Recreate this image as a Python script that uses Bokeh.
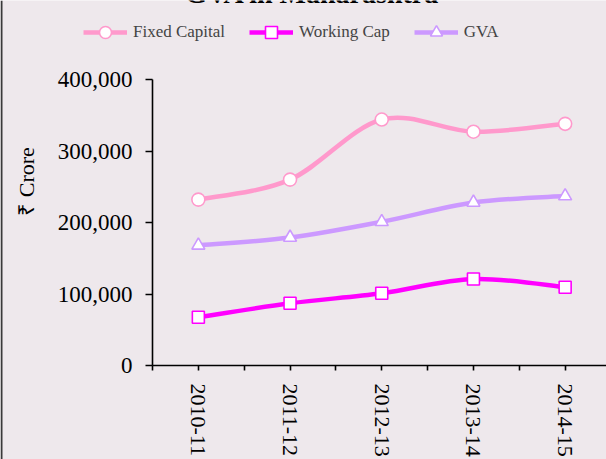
import math
from bokeh.plotting import figure
from bokeh.models import (Range1d, FixedTicker, NumeralTickFormatter, Legend, LegendItem,
                          Label, Span, ColumnDataSource)
from bokeh.embed import file_html
from bokeh.resources import INLINE

# ---- data ----
years = ["2010-11", "2011-12", "2012-13", "2013-14", "2014-15"]
fixed_capital = [232000, 260000, 344000, 327000, 338000]
working_cap = [67500, 87000, 101000, 121000, 109500]
gva = [168000, 179000, 201000, 228000, 237000]
y_ticks = [0, 100000, 200000, 300000, 400000]
title_text = "GVA in Maharashtra"
y_title = "₹ Crore"

FONT = "Liberation Serif"
BG = "#EEE8EC"
C_FC = "#FF99CC"
C_WC = "#FF00FF"
C_GVA = "#CC99FF"

W, H = 606, 459
X0PX, XUNIT = 152.0, 91.7          # pixel of x=0, pixels per category
Y0PX, YSCALE = 365.0, 0.000715     # pixel of y=0, pixels per unit

xs = [i + 0.5 for i in range(len(years))]
x_start = -X0PX / XUNIT
x_end = (W - X0PX) / XUNIT
y_start = -(H - Y0PX) / YSCALE
y_end = Y0PX / YSCALE

p = figure(width=W, height=H, output_backend="svg", toolbar_location=None,
           x_range=Range1d(x_start, x_end), y_range=Range1d(y_start, y_end),
           min_border_left=0, min_border_right=0, min_border_top=0, min_border_bottom=0,
           background_fill_color=BG, border_fill_color=BG, outline_line_color=None)
p.grid.visible = False

# y axis
ya = p.yaxis[0]
ya.fixed_location = 0
ya.bounds = (y_ticks[0], y_ticks[-1])
ya.ticker = FixedTicker(ticks=y_ticks)
ya.formatter = NumeralTickFormatter(format="0,0")
ya.major_label_text_font = FONT
ya.major_label_text_font_size = "23px"
ya.major_label_text_color = "black"
ya.major_tick_out = 7
ya.major_tick_in = 0
ya.minor_tick_line_color = None
ya.axis_line_width = 1.6
ya.major_tick_line_width = 1.6
ya.major_label_standoff = 13

# x axis
xa = p.xaxis[0]
xa.fixed_location = 0
xa.bounds = (0, x_end)
xt = [i * 0.5 for i in range(0, 10)]
xa.ticker = FixedTicker(ticks=xt)
overrides = {t: "" for t in xt}
for x, lab in zip(xs, years):
    overrides[x] = lab
xa.major_label_overrides = overrides
xa.major_label_orientation = "vertical"
xa.major_label_text_font = FONT
xa.major_label_text_font_size = "22px"
xa.major_label_text_color = "black"
xa.major_label_standoff = 13
xa.major_tick_out = 5
xa.major_tick_in = 0
xa.minor_tick_line_color = None
xa.axis_line_width = 1.6
xa.major_tick_line_width = 1.6


def bezier_segments(ys):
    n = len(ys)
    pts = list(zip(xs, ys))
    out = dict(x0=[], y0=[], x1=[], y1=[], cx0=[], cy0=[], cx1=[], cy1=[])
    for i in range(n - 1):
        p0 = pts[i - 1] if i > 0 else pts[i]
        p1 = pts[i]
        p2 = pts[i + 1]
        p3 = pts[i + 2] if i + 2 < n else pts[i + 1]
        out["x0"].append(p1[0]); out["y0"].append(p1[1])
        out["x1"].append(p2[0]); out["y1"].append(p2[1])
        out["cx0"].append(p1[0] + (p2[0] - p0[0]) / 6.0)
        out["cy0"].append(p1[1] + (p2[1] - p0[1]) / 6.0)
        out["cx1"].append(p2[0] - (p3[0] - p1[0]) / 6.0)
        out["cy1"].append(p2[1] - (p3[1] - p1[1]) / 6.0)
    return ColumnDataSource(out)


leg_items = []
for name, ys, color, marker, size in [
        ("Fixed Capital", fixed_capital, C_FC, "circle", 13),
        ("Working Cap", working_cap, C_WC, "square", 12),
        ("GVA", gva, C_GVA, "triangle", 13)]:
    src = bezier_segments(ys)
    br = p.bezier(x0="x0", y0="y0", x1="x1", y1="y1", cx0="cx0", cy0="cy0",
                  cx1="cx1", cy1="cy1", source=src, line_color=color, line_width=4.5)
    sr = p.scatter(x=xs, y=ys, marker=marker, size=size, fill_color="white",
                   line_color=color, line_width=1.6)
    leg_items.append(LegendItem(label=name, renderers=[br, sr]))

legend = Legend(items=leg_items, orientation="horizontal", location=(83, 412),
                padding=0, margin=0, spacing=24, label_standoff=6,
                glyph_width=44, glyph_height=30, label_height=30,
                label_text_font=FONT, label_text_font_size="17px",
                label_text_baseline="middle",
                background_fill_alpha=0, border_line_color=None)
p.add_layout(legend, "center")

# y axis title
p.add_layout(Label(x=(25.5 - X0PX) / XUNIT, y=(Y0PX - 181) / YSCALE, text=y_title,
                   angle=math.pi / 2, text_align="center", text_baseline="middle",
                   text_font=FONT, text_font_size="22px", text_color="black"))

# title (cut off at top edge, as in the reference)
p.add_layout(Label(x=(312 - X0PX) / XUNIT, y=(Y0PX + 7.5) / YSCALE, text=title_text,
                   text_align="center", text_baseline="alphabetic", text_font=FONT,
                   text_font_size="28px", text_font_style="bold", text_color="black"))

# left border of the chart area
p.add_layout(Span(location=(1 - X0PX) / XUNIT, dimension="height",
                  line_color="#3a3a3a", line_width=2))

open("out.html", "w").write(file_html(p, INLINE))
